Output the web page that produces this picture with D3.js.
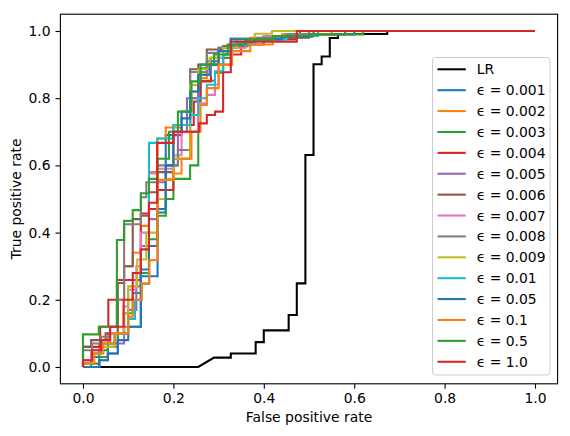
<!DOCTYPE html>
<html>
<head>
<meta charset="utf-8">
<script src="https://cdn.jsdelivr.net/npm/d3@7"></script>
<style>
  body { margin: 0; background: #fff; }
  text { font-family: 'DejaVu Sans', sans-serif; }
</style>
</head>
<body>
<div id="chart"></div>
<script>
// ROC of the logistic regression baseline (corner points, drawn straight)
var fpr_lr = [0, 0.255, 0.290, 0.327, 0.327, 0.382, 0.382, 0.400, 0.400, 0.455, 0.455, 0.473, 0.473, 0.492, 0.492, 0.510, 0.510, 0.528, 0.528, 0.546, 0.546, 0.564, 0.564, 0.673, 0.673, 1.0];
var tpr_lr = [0, 0, 0.028, 0.028, 0.040, 0.040, 0.074, 0.074, 0.109, 0.109, 0.155, 0.155, 0.249, 0.249, 0.631, 0.631, 0.901, 0.901, 0.924, 0.924, 0.979, 0.979, 0.991, 0.991, 1, 1];

// epsilon runs: [fpr, tpr] vertices, drawn as steps (right, then up)
var eps_labels = ['0.001', '0.002', '0.003', '0.004', '0.005', '0.006', '0.007', '0.008', '0.009', '0.01', '0.05', '0.1', '0.5', '1.0'];

var roc_0001 = [[0,0],[0,0.01],[0.018,0.03],[0.036,0.05],[0.055,0.07],[0.077,0.1],[0.1,0.12],[0.128,0.27],[0.165,0.46],[0.183,0.69],[0.2,0.72],[0.218,0.76],[0.237,0.8],[0.26,0.889],[0.274,0.91],[0.3,0.95],[0.327,0.977],[0.4,0.985],[0.46,0.99],[0.51,1],[1,1]];
var roc_0002 = [[0,0],[0,0.02],[0.018,0.04],[0.036,0.07],[0.055,0.1],[0.077,0.2],[0.091,0.3],[0.11,0.34],[0.128,0.42],[0.146,0.58],[0.165,0.68],[0.183,0.713],[0.218,0.72],[0.237,0.82],[0.255,0.86],[0.274,0.9],[0.3,0.94],[0.33,0.96],[0.37,0.98],[0.44,0.99],[0.5,1],[1,1]];
var roc_0003 = [[0,0],[0.018,0.01],[0.036,0.03],[0.055,0.06],[0.077,0.1],[0.091,0.16],[0.11,0.22],[0.128,0.28],[0.146,0.38],[0.165,0.45],[0.183,0.5],[0.2,0.56],[0.237,0.6],[0.255,0.852],[0.292,0.876],[0.31,0.92],[0.327,0.955],[0.364,0.97],[0.4,0.98],[0.45,0.99],[0.48,1],[1,1]];
var roc_0004 = [[0,0],[0,0.06],[0.038,0.12],[0.056,0.2],[0.075,0.259],[0.128,0.457],[0.146,0.47],[0.165,0.527],[0.2,0.69],[0.218,0.72],[0.245,0.79],[0.26,0.85],[0.283,0.9],[0.31,0.93],[0.35,0.96],[0.4,0.975],[0.47,0.99],[0.5,1],[1,1]];
var roc_0005 = [[0,0],[0.018,0],[0.036,0.02],[0.055,0.04],[0.077,0.07],[0.091,0.12],[0.1,0.17],[0.118,0.24],[0.128,0.36],[0.146,0.44],[0.165,0.55],[0.183,0.6],[0.21,0.7],[0.23,0.8],[0.255,0.87],[0.283,0.92],[0.31,0.95],[0.327,0.977],[0.42,0.985],[0.52,1],[1,1]];
var roc_0006 = [[0,0],[0,0.06],[0.018,0.08],[0.05,0.1],[0.077,0.25],[0.091,0.3],[0.11,0.44],[0.128,0.45],[0.146,0.52],[0.165,0.58],[0.2,0.62],[0.237,0.886],[0.255,0.9],[0.274,0.945],[0.31,0.955],[0.36,0.97],[0.42,0.98],[0.5,0.99],[0.58,1],[1,1]];
var roc_0007 = [[0,0],[0,0.02],[0.018,0.05],[0.04,0.07],[0.06,0.1],[0.09,0.18],[0.1,0.23],[0.118,0.3],[0.128,0.4],[0.146,0.576],[0.165,0.59],[0.2,0.63],[0.218,0.7],[0.255,0.785],[0.274,0.81],[0.292,0.84],[0.3,0.9],[0.327,0.95],[0.36,0.97],[0.4,0.985],[0.45,0.99],[0.5,1],[1,1]];
var roc_0008 = [[0,0],[0,0.05],[0.02,0.07],[0.04,0.09],[0.06,0.12],[0.075,0.2],[0.091,0.425],[0.128,0.505],[0.14,0.55],[0.165,0.6],[0.21,0.646],[0.237,0.878],[0.274,0.935],[0.3,0.95],[0.34,0.965],[0.38,0.98],[0.45,0.99],[0.5,1],[1,1]];
var roc_0009 = [[0,0],[0,0.01],[0.02,0.04],[0.04,0.06],[0.07,0.1],[0.09,0.16],[0.1,0.24],[0.12,0.32],[0.14,0.4],[0.165,0.5],[0.183,0.56],[0.2,0.62],[0.237,0.839],[0.255,0.886],[0.28,0.92],[0.31,0.95],[0.34,0.977],[0.38,0.992],[0.418,1],[1,1]];
var roc_001 = [[0,0],[0,0.01],[0.02,0.04],[0.04,0.07],[0.07,0.1],[0.1,0.143],[0.115,0.2],[0.13,0.247],[0.146,0.667],[0.164,0.68],[0.2,0.72],[0.237,0.75],[0.255,0.8],[0.274,0.84],[0.292,0.88],[0.31,0.93],[0.33,0.96],[0.38,0.975],[0.45,0.985],[0.52,1],[1,1]];
var roc_005 = [[0,0],[0.018,0],[0.036,0.02],[0.055,0.04],[0.077,0.08],[0.1,0.12],[0.128,0.29],[0.146,0.36],[0.165,0.47],[0.183,0.6],[0.2,0.7],[0.218,0.74],[0.237,0.82],[0.255,0.87],[0.28,0.9],[0.3,0.94],[0.327,0.975],[0.44,0.983],[0.507,0.99],[0.6,1],[1,1]];
var roc_01 = [[0,0],[0,0.01],[0.025,0.04],[0.045,0.07],[0.07,0.1],[0.1,0.15],[0.11,0.2],[0.13,0.249],[0.147,0.318],[0.165,0.557],[0.2,0.576],[0.218,0.62],[0.24,0.7],[0.26,0.78],[0.274,0.83],[0.3,0.9],[0.33,0.94],[0.37,0.96],[0.42,0.985],[0.5,0.99],[0.55,1],[1,1]];
var roc_05 = [[0,0],[0,0.097],[0.035,0.12],[0.075,0.378],[0.091,0.435],[0.11,0.467],[0.128,0.517],[0.146,0.56],[0.165,0.62],[0.19,0.7],[0.21,0.76],[0.24,0.85],[0.26,0.9],[0.29,0.93],[0.32,0.96],[0.36,0.975],[0.42,0.985],[0.5,0.99],[0.62,1],[1,1]];
var roc_10 = [[0,0],[0,0.02],[0.02,0.05],[0.04,0.08],[0.06,0.12],[0.09,0.2],[0.11,0.28],[0.128,0.35],[0.146,0.489],[0.164,0.667],[0.2,0.7],[0.257,0.725],[0.274,0.75],[0.292,0.76],[0.31,0.877],[0.327,0.968],[0.473,1],[1,1]];

var eps_rocs = [roc_0001, roc_0002, roc_0003, roc_0004, roc_0005, roc_0006, roc_0007, roc_0008, roc_0009, roc_001, roc_005, roc_01, roc_05, roc_10];

var x_ticks = [0, 0.2, 0.4, 0.6, 0.8, 1.0];
var y_ticks = [0, 0.2, 0.4, 0.6, 0.8, 1.0];

// matplotlib tab10 cycle
var palette = ['#1f77b4', '#ff7f0e', '#2ca02c', '#d62728', '#9467bd', '#8c564b', '#e377c2', '#7f7f7f', '#bcbd22', '#17becf'];

var W = 570, H = 436;
var margin = {top: 14.2, right: 12.4, bottom: 52.2, left: 60.4};
var width = W - margin.left - margin.right,
  height = H - margin.top - margin.bottom;

var svg = d3.select('#chart')
  .append('svg')
  .attr('width', W)
  .attr('height', H);

var g = svg.append('g')
  .attr('transform', 'translate(' + margin.left + ',' + margin.top + ')');

var x = d3.scaleLinear().domain([-0.05, 1.05]).range([0, width]);
var y = d3.scaleLinear().domain([-0.05, 1.05]).range([height, 0]);

// clip to the axes box
svg.append('defs').append('clipPath').attr('id', 'clip')
  .append('rect').attr('width', width).attr('height', height);

var plot = g.append('g').attr('clip-path', 'url(#clip)');

var lrLine = d3.line()
  .x(function (d, i) { return x(fpr_lr[i]); })
  .y(function (d, i) { return y(tpr_lr[i]); });

plot.append('path')
  .datum(fpr_lr)
  .attr('d', lrLine)
  .attr('fill', 'none')
  .attr('stroke', '#000')
  .attr('stroke-width', 2.08)
  .attr('stroke-linejoin', 'miter');

var stepLine = d3.line()
  .x(function (d) { return x(d[0]); })
  .y(function (d) { return y(d[1]); })
  .curve(d3.curveStepAfter);

eps_rocs.forEach(function (roc, i) {
  plot.append('path')
    .datum(roc)
    .attr('d', stepLine)
    .attr('fill', 'none')
    .attr('stroke', palette[i % 10])
    .attr('stroke-width', 2.08)
    .attr('stroke-linejoin', 'miter');
});

// axes
var xAxis = g.append('g')
  .attr('transform', 'translate(0,' + height + ')')
  .call(d3.axisBottom(x).tickValues(x_ticks).tickFormat(d3.format('.1f')).tickSize(4.9).tickPadding(4.9));
var yAxis = g.append('g')
  .call(d3.axisLeft(y).tickValues(y_ticks).tickFormat(d3.format('.1f')).tickSize(4.9).tickPadding(4.9));

[xAxis, yAxis].forEach(function (a) {
  a.select('.domain').remove();
  a.selectAll('line').attr('stroke', '#000').attr('stroke-width', 1.1);
  a.selectAll('text').attr('fill', '#000').style('font-size', '13.9px').style('font-family', "'DejaVu Sans', sans-serif");
});

g.append('rect')
  .attr('width', width)
  .attr('height', height)
  .attr('fill', 'none')
  .attr('stroke', '#000')
  .attr('stroke-width', 1.1);

// axis labels
svg.append('text')
  .attr('x', margin.left + width / 2)
  .attr('y', 422)
  .attr('text-anchor', 'middle')
  .style('font-size', '13.9px')
  .text('False positive rate');

svg.append('text')
  .attr('transform', 'translate(21,' + (margin.top + height / 2) + ') rotate(-90)')
  .attr('text-anchor', 'middle')
  .style('font-size', '13.9px')
  .text('True positive rate');

// legend
var legendItems = [{label: 'LR', color: '#000'}].concat(eps_labels.map(function (e, i) {
  return {label: '\u03f5 = ' + e, color: palette[i % 10]};
}));

var legend = svg.append('g').attr('transform', 'translate(432.5,57.5)');
legend.append('rect')
  .attr('width', 117.5)
  .attr('height', 317.5)
  .attr('rx', 3)
  .attr('fill', '#fff')
  .attr('fill-opacity', 0.8)
  .attr('stroke', '#ccc')
  .attr('stroke-width', 1);

var rows = legend.selectAll('g.row')
  .data(legendItems)
  .enter()
  .append('g')
  .attr('class', 'row')
  .attr('transform', function (d, i) { return 'translate(0,' + (11.8 + i * 20.89) + ')'; });

rows.append('line')
  .attr('x1', 5)
  .attr('x2', 33.3)
  .attr('stroke', function (d) { return d.color; })
  .attr('stroke-width', 2.08);

rows.append('text')
  .attr('x', 44.2)
  .attr('dy', '0.36em')
  .style('font-size', '13.9px')
  .text(function (d) { return d.label; });
</script>
</body>
</html>
